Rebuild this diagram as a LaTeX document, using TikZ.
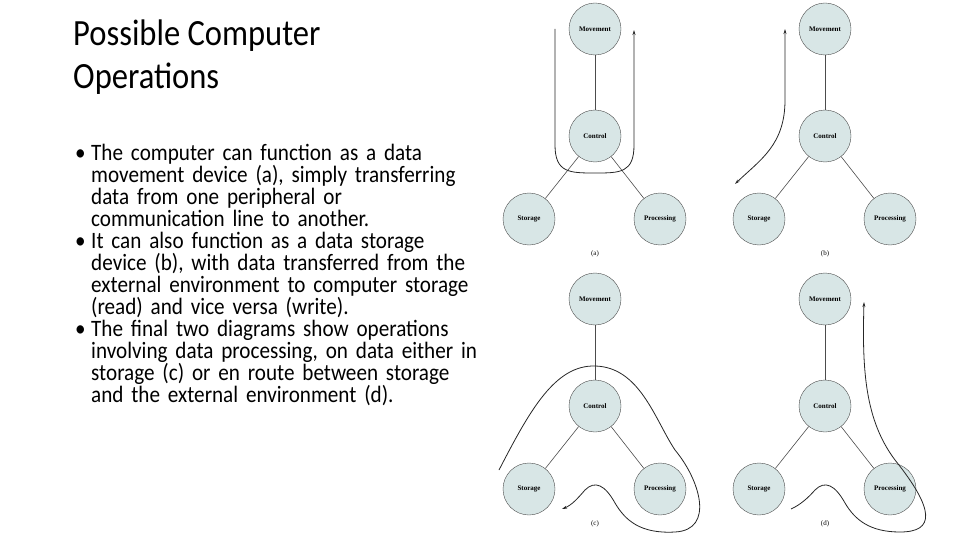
\documentclass[tikz,border=0pt]{standalone}
\usepackage{fontspec}
\setmainfont{Carlito}
\newfontfamily\bodyf[FakeStretch=0.9]{Carlito}
\newfontfamily\titlef[FakeStretch=0.88]{Carlito}
\newfontfamily\serifb{Liberation Serif}
\usetikzlibrary{arrows.meta}
\definecolor{cfill}{HTML}{D8E6E6}
\begin{document}
\begin{tikzpicture}[x=1pt,y=-1pt,
  unit/.style={circle,draw=black!70,fill=cfill,minimum size=52pt,inner sep=0pt,font=\serifb\bfseries\fontsize{7}{8}\selectfont},
  link/.style={draw=black!70,line width=0.6pt},
  flow/.style={draw=black!85,line width=0.8pt,-{Stealth[length=5pt,width=3pt]}},
  plabel/.style={font=\serifb\fontsize{7}{8}\selectfont}]
\useasboundingbox (0,0) rectangle (960,540);
\node[anchor=north west,align=left,inner sep=0pt,font=\titlef\fontsize{37}{43}\selectfont] (title) at (73,20) {Possible Computer\\Operations};
\node[anchor=north west,text width=405pt,inner sep=0pt,font=\bodyf\fontsize{23.5}{22}\selectfont] (body) at (75,144) {\raggedright\hyphenpenalty=10000
\hangindent=16pt\hangafter=1\noindent\makebox[16pt][l]{•}The computer can function as a data movement device (a), simply transferring data from one peripheral or communication line to another.\par
\hangindent=16pt\hangafter=1\noindent\makebox[16pt][l]{•}It can also function as a data storage device (b), with data transferred from the external environment to computer storage (read) and vice versa (write).\par
\hangindent=16pt\hangafter=1\noindent\makebox[16pt][l]{•}The final two diagrams show operations involving data processing, on data either in storage (c) or en route between storage and the external environment (d).\par};
\foreach \p/\dx/\dy/\l in {a/0/0/(a),b/230/0/(b),c/0/270/(c),d/230/270/(d)}{
  \node[unit] (\p m) at (595+\dx,29+\dy) {Movement};
  \node[unit] (\p c) at (595+\dx,136+\dy) {Control};
  \node[unit] (\p s) at (529+\dx,219+\dy) {Storage};
  \node[unit] (\p p) at (660+\dx,219+\dy) {Processing};
  \node[plabel] (\p l) at (595+\dx,254+\dy) {\l};
  \draw[link] (\p m) -- (\p c);
  \draw[link] (\p c) -- (\p s);
  \draw[link] (\p c) -- (\p p);
}
% (a)
\coordinate (a1) at (555,29);
\coordinate (a2) at (634,30);
\draw[flow] (a1) -- (555,145) .. controls (555,173) and (570,173) .. (595,173) .. controls (620,173) and (634,173) .. (634,145) -- (a2);
% (b)
\coordinate (b1) at (785,29);
\coordinate (b2) at (735,184);
\draw[flow,{Stealth[length=5pt,width=3pt]}-{Stealth[length=5pt,width=3pt]}] (b1) -- (785,100) .. controls (785,145) and (760,160) .. (b2);
% (c)
\coordinate (c1) at (499,470);
\coordinate (c2) at (562,509);
\draw[flow] (c1) .. controls (530,410) and (555,365) .. (595,366) .. controls (640,367) and (655,420) .. (675,450) .. controls (700,480) and (715,530) .. (675,532) .. controls (640,534) and (625,520) .. (615,503) .. controls (605,485) and (595,480) .. (585,490) .. controls (578,498) and (572,505) .. (c2);
% (d)
\coordinate (d1) at (864,302);
\coordinate (d2) at (791,509);
\draw[flow,{Stealth[length=5pt,width=3pt]}-] (d1) .. controls (862,370) and (865,420) .. (895,460) .. controls (935,510) and (935,532) .. (900,532) .. controls (870,532) and (855,520) .. (845,503) .. controls (835,485) and (825,480) .. (815,490) .. controls (808,498) and (800,505) .. (d2);
\end{tikzpicture}
\end{document}
